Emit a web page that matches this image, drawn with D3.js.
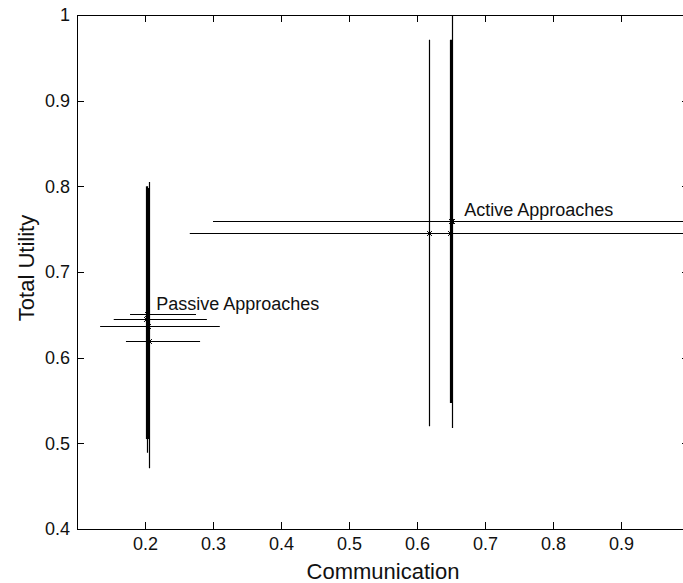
<!DOCTYPE html>
<html>
<head>
<meta charset="utf-8">
<script src="https://cdn.jsdelivr.net/npm/d3@7"></script>
<style>
  body { margin: 0; background: #fff; overflow: hidden; }
  text { font-family: "Liberation Sans", Arial, sans-serif; fill: #111; }
</style>
</head>
<body>
<svg id="chart"></svg>
<script>
// mean points, with min/max ranges in both directions
const names = ["P1", "P2", "P3", "P4", "A1", "A2", "A3", "A4"];
const comm = [0.2029, 0.2015, 0.2044, 0.2059, 0.618, 0.6485, 0.650, 0.6515];
const util = [0.651, 0.645, 0.637, 0.620, 0.745, 0.745, 0.759, 0.760];
const commLo = [0.178, 0.154, 0.134, 0.172, 0.266, 0.266, 0.300, 0.300];
const commHi = [0.275, 0.291, 0.310, 0.281, 1.20, 1.15, 1.10, 1.12];
const utilLo = [0.489, 0.505, 0.505, 0.471, 0.520, 0.547, 0.547, 0.518];
const utilHi = [0.800, 0.800, 0.798, 0.805, 0.971, 0.971, 0.971, 1.02];

const xTicks = [0.2, 0.3, 0.4, 0.5, 0.6, 0.7, 0.8, 0.9];
const yTicks = [0.4, 0.5, 0.6, 0.7, 0.8, 0.9, 1];
const labels = [
  { text: "Passive Approaches", x: 0.2165, y: 0.6555 },
  { text: "Active Approaches", x: 0.6695, y: 0.7655 }
];

const W = 683, H = 583;
const x = d3.scaleLinear().domain([0.1, 1.0]).range([77, 689]);
const y = d3.scaleLinear().domain([0.4, 1]).range([529, 15]);

const svg = d3.select("#chart").attr("width", W).attr("height", H);

svg.append("clipPath").attr("id", "clip")
  .append("rect")
  .attr("x", x.range()[0]).attr("y", y.range()[1])
  .attr("width", x.range()[1] - x.range()[0])
  .attr("height", y.range()[0] - y.range()[1]);

const pts = names.map((n, i) => ({
  name: n, x: comm[i], y: util[i],
  xlo: commLo[i], xhi: commHi[i], ylo: utilLo[i], yhi: utilHi[i]
}));

const g = svg.append("g").attr("clip-path", "url(#clip)");
const px = v => Math.round(x(v)) + 0.5;
const py = v => Math.round(y(v)) + 0.5;

// vertical error bars
g.selectAll(".vbar").data(pts).enter().append("line")
  .attr("x1", d => px(d.x)).attr("x2", d => px(d.x))
  .attr("y1", d => y(d.ylo)).attr("y2", d => y(d.yhi))
  .attr("stroke", "#000").attr("stroke-width", 1.2);

// horizontal error bars
g.selectAll(".hbar").data(pts).enter().append("line")
  .attr("x1", d => x(d.xlo)).attr("x2", d => x(d.xhi))
  .attr("y1", d => py(d.y)).attr("y2", d => py(d.y))
  .attr("stroke", "#000").attr("stroke-width", 1);

// asterisk markers
const r = 3.5;
const star = "M" + (-r) + ",0H" + r + "M0," + (-r) + "V" + r +
  "M" + (-r * 0.7) + "," + (-r * 0.7) + "L" + (r * 0.7) + "," + (r * 0.7) +
  "M" + (-r * 0.7) + "," + (r * 0.7) + "L" + (r * 0.7) + "," + (-r * 0.7);
g.selectAll(".mark").data(pts).enter().append("path")
  .attr("transform", d => "translate(" + px(d.x) + "," + py(d.y) + ")")
  .attr("d", star)
  .attr("fill", "none").attr("stroke", "#000").attr("stroke-width", 1);

// text labels
svg.selectAll(".lab").data(labels).enter().append("text")
  .attr("x", d => x(d.x)).attr("y", d => y(d.y))
  .attr("font-size", 18)
  .text(d => d.text);

// axes box with inward ticks on all sides
const x0 = x.range()[0], x1 = x.range()[1], y0 = y.range()[0], y1 = y.range()[1];
svg.append("rect")
  .attr("x", x0 + 0.5).attr("y", y1 + 0.5)
  .attr("width", x1 - x0).attr("height", y0 - y1)
  .attr("fill", "none").attr("stroke", "#000");

const axB = d3.axisBottom(x).tickValues(xTicks).tickSize(0).tickPadding(8).tickFormat(d3.format(".1f"));
const axL = d3.axisLeft(y).tickValues(yTicks).tickSize(0).tickPadding(7).tickFormat(d => d === 1 ? "1" : d3.format(".1f")(d));

const bottom = svg.append("g").attr("transform", "translate(0," + y0 + ")").call(axB);
const left = svg.append("g").attr("transform", "translate(" + x0 + ",0)").call(axL);
[bottom, left].forEach(a => {
  a.select(".domain").remove();
  a.selectAll("text").attr("font-size", 18).attr("fill", "#111")
    .attr("font-family", "Liberation Sans, Arial, sans-serif");
});

const tick = 7;
svg.selectAll(".tb").data(xTicks).enter().append("line")
  .attr("x1", d => px(d)).attr("x2", d => px(d))
  .attr("y1", y0).attr("y2", y0 - tick).attr("stroke", "#000");
svg.selectAll(".tt").data(xTicks).enter().append("line")
  .attr("x1", d => px(d)).attr("x2", d => px(d))
  .attr("y1", y1).attr("y2", y1 + tick).attr("stroke", "#000");
svg.selectAll(".tl").data(yTicks).enter().append("line")
  .attr("x1", x0).attr("x2", x0 + tick)
  .attr("y1", d => py(d)).attr("y2", d => py(d)).attr("stroke", "#000");
svg.selectAll(".tr").data(yTicks).enter().append("line")
  .attr("x1", x1).attr("x2", x1 - tick)
  .attr("y1", d => py(d)).attr("y2", d => py(d)).attr("stroke", "#000");

// axis titles
svg.append("text")
  .attr("x", 383).attr("y", 579)
  .attr("text-anchor", "middle").attr("font-size", 22)
  .text("Communication");
svg.append("text")
  .attr("transform", "translate(34,268) rotate(-90)")
  .attr("text-anchor", "middle").attr("font-size", 22)
  .text("Total Utility");
</script>
</body>
</html>
